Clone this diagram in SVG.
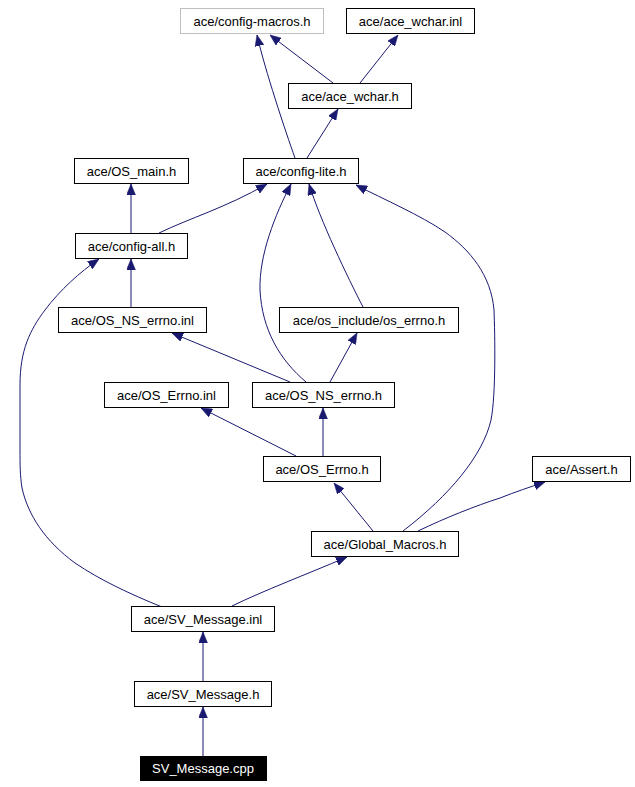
<svg xmlns="http://www.w3.org/2000/svg" width="635" height="787" viewBox="0 0 635 787">
<style>
.n rect{fill:#ffffff;stroke:#000000;stroke-width:1}
.n text{font-family:"Liberation Sans",Arial,sans-serif;font-size:13px;text-anchor:middle;fill:#000000}
.g rect{stroke:#bfbfbf}
.h rect{fill:#000000}
.h text{fill:#ffffff}
.e path{fill:none;stroke:#191970;stroke-width:1;marker-end:url(#a)}
</style>
<defs>
<marker id="a" viewBox="0 0 11 9" refX="11" refY="4.5" markerWidth="11" markerHeight="9" markerUnits="userSpaceOnUse" orient="auto">
<path d="M0,0 L11,4.5 L0,9 z" fill="#191970" stroke="#191970" stroke-width="0.5"/>
</marker>
</defs>
<rect width="635" height="787" fill="#ffffff"/>
<g id="edges" class="e">
<path d="M295,158 C285,130 265,70 257,35"/>
<path d="M333,83 L270,35"/>
<path d="M360,83 L398,35"/>
<path d="M307,158 L338,109"/>
<path d="M131,233 L131,184"/>
<path d="M159,233 C190,218 225,208 267,184"/>
<path d="M131,307 L131,259"/>
<path d="M162,607 C130,594 100,580 75,563 C45,541 28,515 22,488 C20,475 20,465 20,450 L20,385 C20,350 30,330 45,310 C60,290 80,272 99,259"/>
<path d="M290,382 L172,333"/>
<path d="M306,382 C280,360 262,330 260,290 C259,255 275,215 291,184"/>
<path d="M363,307 C348,278 320,220 309,184"/>
<path d="M403,531 C450,495 483,455 491,420 C496,395 495,335 494,310 C491,275 470,250 445,232 C420,215 385,200 356,185"/>
<path d="M330,382 L357,333"/>
<path d="M296,456 L201,408"/>
<path d="M323,456 L323,408"/>
<path d="M373,531 L334,483"/>
<path d="M418,531 C445,518 475,506 500,498 C515,492 530,487 545,482"/>
<path d="M232,606 C265,590 305,575 347,557"/>
<path d="M203,681 L203,632"/>
<path d="M203,756 L203,707"/>
</g>
<g id="config-macros" class="n g"><rect x="180.5" y="8.5" width="143" height="25"/><text x="252" y="25.5">ace/config-macros.h</text></g>
<g id="ace_wchar_inl" class="n"><rect x="346.5" y="8.5" width="128" height="25"/><text x="410.5" y="25.5">ace/ace_wchar.inl</text></g>
<g id="ace_wchar_h" class="n"><rect x="288.5" y="83.5" width="123" height="25"/><text x="350" y="100.5">ace/ace_wchar.h</text></g>
<g id="OS_main" class="n"><rect x="74.5" y="158.5" width="114" height="25"/><text x="131.5" y="175.5">ace/OS_main.h</text></g>
<g id="config-lite" class="n"><rect x="243.5" y="158.5" width="115" height="25"/><text x="301" y="175.5">ace/config-lite.h</text></g>
<g id="config-all" class="n"><rect x="75.5" y="233.5" width="112" height="25"/><text x="131.5" y="250.5">ace/config-all.h</text></g>
<g id="OS_NS_errno_inl" class="n"><rect x="58.5" y="307.5" width="148" height="25"/><text x="132.5" y="324.5">ace/OS_NS_errno.inl</text></g>
<g id="os_errno" class="n"><rect x="279.5" y="307.5" width="179" height="25"/><text x="369" y="324.5">ace/os_include/os_errno.h</text></g>
<g id="OS_Errno_inl" class="n"><rect x="104.5" y="382.5" width="124" height="25"/><text x="166.5" y="399.5">ace/OS_Errno.inl</text></g>
<g id="OS_NS_errno_h" class="n"><rect x="252.5" y="382.5" width="142" height="25"/><text x="323.5" y="399.5">ace/OS_NS_errno.h</text></g>
<g id="OS_Errno_h" class="n"><rect x="263.5" y="456.5" width="117" height="25"/><text x="322" y="473.5">ace/OS_Errno.h</text></g>
<g id="Assert" class="n"><rect x="532.5" y="456.5" width="98" height="25"/><text x="581.5" y="473.5">ace/Assert.h</text></g>
<g id="Global_Macros" class="n"><rect x="311.5" y="531.5" width="147" height="25"/><text x="385" y="548.5">ace/Global_Macros.h</text></g>
<g id="SV_Message_inl" class="n"><rect x="131.5" y="606.5" width="143" height="25"/><text x="203" y="623.5">ace/SV_Message.inl</text></g>
<g id="SV_Message_h" class="n"><rect x="134.5" y="681.5" width="137" height="25"/><text x="203" y="698.5">ace/SV_Message.h</text></g>
<g id="SV_Message_cpp" class="n h"><rect x="140.5" y="756.5" width="126" height="24"/><text x="203" y="773">SV_Message.cpp</text></g>
</svg>
